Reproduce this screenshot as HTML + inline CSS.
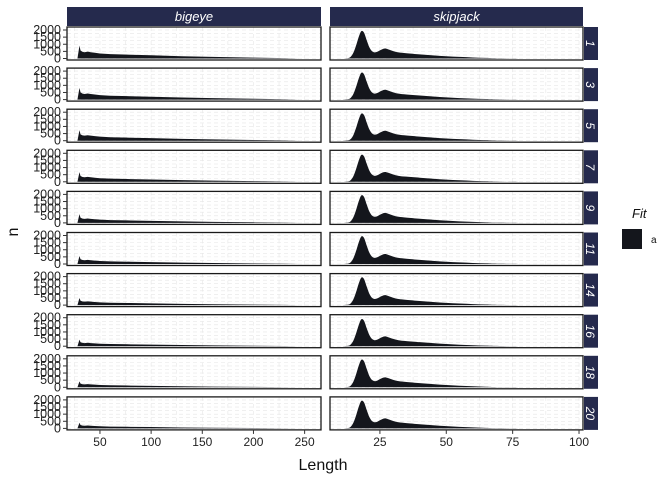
<!DOCTYPE html>
<html><head><meta charset="utf-8"><style>
body{margin:0;background:#fff;}
svg{display:block;font-family:"Liberation Sans",sans-serif;}
</style></head><body>
<svg id="chart" width="672" height="480" xmlns="http://www.w3.org/2000/svg"></svg>
<script>
const rowLabels = ["1","3","5","7","9","11","14","16","18","20"];
const speciesLabels = ["bigeye","skipjack"];
const yTicks = [0,500,1000,1500,2000];
const bigeyeXTicks = [50,100,150,200,250];
const skipjackXTicks = [25,50,75,100];
const bigeyeLen = [28,30,31,33,35,38,41,45,50,60,80,100,130,160,200,230,245];
const bigeyeSpike = [900,820,740,680,620,560,500,460,420,400];
const bigeyeTailScale = [1,0.9,0.8,0.72,0.65,0.6,0.55,0.5,0.46,0.42];
const bigeyeShape = [0,1,0.7,0.58,0.55,0.6,0.55,0.5,0.44,0.38,0.33,0.28,0.2,0.14,0.08,0.03,0];
const skipjackLen = [11,13,14,15,16,17,18,19,20,21,22,23,24,25,26,27,28,30,32,35,40,45,50,55,60,65,70,80];
const skipjackValues = [
[0,30,120,400,900,1500,1920,1820,1300,800,520,430,470,570,660,700,650,520,430,370,290,220,160,110,70,40,15,0],
[0,30,120,390,880,1460,1880,1780,1270,790,510,420,460,560,650,690,640,510,420,360,285,215,155,105,68,38,14,0],
[0,30,120,395,890,1480,1900,1800,1290,800,515,425,465,565,655,695,645,515,425,365,288,218,158,108,69,39,14,0],
[0,30,120,390,885,1470,1890,1790,1280,795,510,420,460,560,650,690,640,510,420,360,285,215,155,105,68,38,14,0],
[0,30,120,400,900,1500,1930,1830,1310,805,520,430,470,570,660,700,650,520,430,370,290,220,160,110,70,40,15,0],
[0,30,120,400,900,1500,1930,1830,1310,805,520,430,470,570,660,700,650,520,430,370,290,220,160,110,70,40,15,0],
[0,30,120,400,900,1500,1930,1830,1310,805,520,430,470,570,660,700,650,520,430,370,290,220,160,110,70,40,15,0],
[0,30,120,390,885,1470,1890,1790,1280,795,510,420,460,560,650,690,640,510,420,360,285,215,155,105,68,38,14,0],
[0,30,120,400,900,1500,1930,1830,1310,805,520,430,470,570,660,700,650,520,430,370,290,220,160,110,70,40,15,0],
[0,30,120,400,900,1500,1930,1830,1310,805,520,430,470,570,660,700,650,520,430,370,290,220,160,110,70,40,15,0]];

const NS="http://www.w3.org/2000/svg";
const svg=document.getElementById('chart');
function mk(t,a,p){const e=document.createElementNS(NS,t);for(const k in a)e.setAttribute(k,a[k]);(p||svg).appendChild(e);return e;}
const panels=[{x0:67,x1:321,d0:17.8,d1:266,ticks:bigeyeXTicks},{x0:330,x1:583,d0:6.2,d1:101.5,ticks:skipjackXTicks}];
function xs(p,v){return p.x0+(v-p.d0)/(p.d1-p.d0)*(p.x1-p.x0);}
const pitch=41.1,ph=33,top0=27;
function ys(r,v){const t=top0+r*pitch;return t+ph-1.5-(v/2000)*(ph-4.5);}
function smooth(pts){let d='M'+pts[0][0]+','+pts[0][1];
 for(let i=0;i<pts.length-1;i++){const p0=pts[Math.max(i-1,0)],p1=pts[i],p2=pts[i+1],p3=pts[Math.min(i+2,pts.length-1)];
  const c1=[p1[0]+(p2[0]-p0[0])/6,p1[1]+(p2[1]-p0[1])/6],c2=[p2[0]-(p3[0]-p1[0])/6,p2[1]-(p3[1]-p1[1])/6];
  d+=` C${c1[0]},${c1[1]} ${c2[0]},${c2[1]} ${p2[0]},${p2[1]}`;}
 return d;}

speciesLabels.forEach((s,i)=>{const p=panels[i];
 const g=mk('g',{});
 
 
 mk('rect',{x:p.x0,y:7,width:p.x1-p.x0,height:19,fill:'#252a4d'},g);
 mk('text',{x:(p.x0+p.x1)/2,y:21,'text-anchor':'middle','font-size':13,'font-style':'italic',fill:'#fff'},g).textContent=s;
});

rowLabels.forEach((lab,r)=>{
 const t=top0+r*pitch;
 panels.forEach((p,pi)=>{
  const g=mk('g',{});
  
  
  const step=pi==0?25:12.5;
  for(let v=Math.ceil(p.d0/step)*step;v<p.d1;v+=step){
   mk('line',{x1:xs(p,v),x2:xs(p,v),y1:t,y2:t+ph,stroke:'#e6e6e6','stroke-width':0.6,'stroke-dasharray':'4,3'},g);}
  for(let v=0;v<=2000;v+=250){mk('line',{x1:p.x0,x2:p.x1,y1:ys(r,v),y2:ys(r,v),stroke:'#e6e6e6','stroke-width':0.6,'stroke-dasharray':'4,3'},g);}
  let d;
  if(pi==0){
   const vals=bigeyeShape.map((s,k)=>k==1?bigeyeSpike[r]:s*800*bigeyeTailScale[r]);
   d='M'+xs(p,bigeyeLen[0])+','+ys(r,0);
   bigeyeLen.forEach((x,k)=>{d+=' L'+xs(p,x)+','+ys(r,vals[k]);});
   d+=' L'+xs(p,bigeyeLen[bigeyeLen.length-1])+','+ys(r,0)+'Z';
  } else {
   const pts=skipjackLen.map((x,k)=>[xs(p,x),ys(r,skipjackValues[r][k])]);
   d=smooth(pts)+' Z';
  }
  const area=mk('path',{d:d,fill:'#14161c'},g);
  
  
  mk('rect',{x:p.x0,y:t,width:p.x1-p.x0,height:ph,fill:'none',stroke:'#1a1a1a','stroke-width':1.3},g);
 });
 const ya=mk('g',{});
 
 
 yTicks.forEach(v=>{const y=ys(r,v);
  mk('line',{x1:63,x2:67,y1:y,y2:y,stroke:'#333','stroke-width':1},ya);
  mk('text',{x:61,y:y+4,'text-anchor':'end','font-size':12.5,fill:'#222'},ya).textContent=v;});
 const sg=mk('g',{});
 
 
 mk('rect',{x:584,y:t,width:14,height:ph,fill:'#252a4d'},sg);
 mk('text',{x:0,y:0,transform:`translate(586,${t+ph/2}) rotate(90)`,'text-anchor':'middle','font-size':12,'font-style':'italic',fill:'#fff'},sg).textContent=lab;
});
const bottom=top0+9*pitch+ph;
panels.forEach((p,pi)=>{const g=mk('g',{});
 
 
 p.ticks.forEach(v=>{const x=xs(p,v);
  mk('line',{x1:x,x2:x,y1:bottom,y2:bottom+4,stroke:'#333'},g);
  mk('text',{x:x,y:bottom+16,'text-anchor':'middle','font-size':12,fill:'#222'},g).textContent=v;});
});
const xt=mk('text',{x:323,y:470,'text-anchor':'middle','font-size':16,fill:'#111'});xt.textContent='Length';

const yt=mk('text',{x:0,y:0,transform:'translate(18,232) rotate(-90)','text-anchor':'middle','font-size':16,fill:'#111'});yt.textContent='n';

const lg=mk('g',{});

mk('text',{x:632,y:218,'font-size':13,'font-style':'italic',fill:'#111'},lg).textContent='Fit';
mk('rect',{x:622,y:229,width:20,height:20,fill:'#14161c'},lg);
mk('text',{x:651,y:243,'font-size':10,fill:'#111'},lg).textContent='a';
</script>
</body></html>
